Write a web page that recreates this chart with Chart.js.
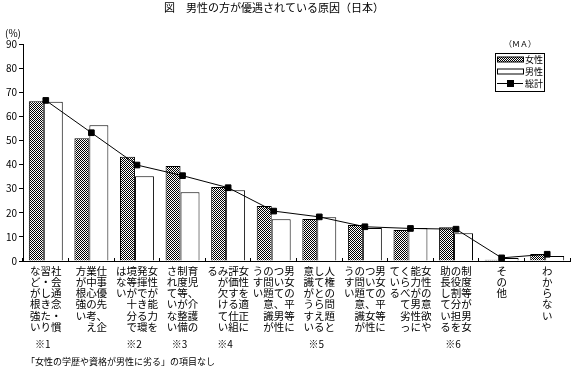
<!DOCTYPE html>
<html>
<head>
<meta charset="utf-8">
<script src="https://cdn.jsdelivr.net/npm/chart.js@4"></script>
<style>
  html, body { margin: 0; padding: 0; background: #fff; }
</style>
</head>
<body>
<canvas id="grafico" width="575" height="368"></canvas>
<script>
const titulo = '図　男性の方が優遇されている原因（日本）';
const categorias = [
    '社会通念・慣習・しきたりなどが根強い',
    '仕事優先、企業中心の考え方が根強い',
    '女性が能力を発揮できる環境等が十分ではない',
    '育児、介護の制度等が整備されていない',
    '女性を適正に評価する仕組みが欠けている',
    '男女の平等について、男性の問題意識がうすい',
    '人権の問題としてとらえる意識がうすい',
    '男女の平等について、女性の問題意識がうすい',
    '女性の意欲や能力が男性にくらべて劣っている',
    '制度等が男女の役割分担を助長している',
    'その他',
    'わからない'
];
const notas = ['※1', '', '※2', '※3', '※4', '', '※5', '', '', '※6', '', ''];
const rodape = '「女性の学歴や資格が男性に劣る」の項目なし';
const nomesSeries = ['女性', '男性', '総計'];
const valoresMulheres = [66.3, 50.9, 43.2, 39.4, 30.7, 22.8, 17.4, 14.9, 12.9, 14.0, 0.5, 2.9];
const valoresHomens = [66.0, 56.3, 35.1, 28.5, 29.3, 17.3, 18.1, 13.7, 13.7, 11.5, 1.2, 2.1];
const valoresTotal = [66.6, 53.2, 39.8, 35.4, 30.4, 20.7, 18.3, 14.2, 13.5, 13.2, 1.3, 2.8];
const ticksY = [0, 10, 20, 30, 40, 50, 60, 70, 80, 90];

const FONTE = '"Noto Sans CJK JP", sans-serif';
Chart.defaults.font.family = FONTE;
Chart.defaults.color = '#000';

// texto vertical: colunas de 6 caracteres, lidas da direita para a esquerda
function linhasVerticais(texto, porColuna = 6) {
    const chars = Array.from(texto);
    const colunas = [];
    for (let i = 0; i < chars.length; i += porColuna) colunas.push(chars.slice(i, i + porColuna));
    const linhas = [];
    for (let r = 0; r < Math.min(porColuna, chars.length); r++) {
        linhas.push(colunas.slice().reverse().map(c => c[r] || '　').join(''));
    }
    return linhas;
}

function criarPadrao() {
    const c = document.createElement('canvas');
    c.width = 2; c.height = 2;
    const p = c.getContext('2d');
    p.fillStyle = '#fff';
    p.fillRect(0, 0, 2, 2);
    p.fillStyle = '#000';
    p.fillRect(0, 0, 1, 1);
    p.fillRect(1, 1, 1, 1);
    return p.createPattern(c, 'repeat');
}

const padrao = criarPadrao();

const extras = {
    id: 'extras',
    afterDraw(chart) {
        const ctx = chart.ctx;
        const area = chart.chartArea;
        const x = chart.scales.x;
        ctx.save();
        ctx.fillStyle = '#000';
        ctx.textBaseline = 'middle';

        ctx.font = '11px ' + FONTE;
        ctx.textAlign = 'center';
        ctx.fillText(titulo, 274, 8);

        ctx.font = '10px ' + FONTE;
        ctx.textAlign = 'left';
        ctx.fillText('(%)', 5, 33);
        ctx.font = '8px ' + FONTE;
        ctx.fillText('（ＭＡ）', 504, 44);

        ctx.font = '10px ' + FONTE;
        ctx.textAlign = 'center';
        notas.forEach((n, i) => {
            if (n) ctx.fillText(n, x.getPixelForValue(i) - 3, area.bottom + 83);
        });

        ctx.font = '9px ' + FONTE;
        ctx.textAlign = 'left';
        ctx.fillText(rodape, 26, 362);

        // legenda: 女性, 男性, 総計
        ctx.strokeStyle = '#000';
        ctx.lineWidth = 1;
        ctx.strokeRect(495.5, 53.5, 49, 38);
        ctx.font = '9px ' + FONTE;
        const ds = chart.data.datasets;
        [ds[1], ds[2], ds[0]].forEach((d, i) => {
            const y = 59.5 + i * 12;
            if (d.type === 'line') {
                ctx.beginPath();
                ctx.moveTo(497, y);
                ctx.lineTo(523, y);
                ctx.stroke();
                ctx.fillRect(507, y - 3.5, 7, 7);
            } else {
                ctx.fillStyle = d.backgroundColor;
                ctx.fillRect(497.5, y - 2.5, 26, 5);
                ctx.strokeRect(497.5, y - 2.5, 26, 5);
            }
            ctx.fillStyle = '#000';
            ctx.fillText(d.label, 525, y + 0.5);
        });
        ctx.restore();
    }
};

document.addEventListener('DOMContentLoaded', () => {
    const ctx = document.getElementById('grafico').getContext('2d');

    new Chart(ctx, {
        type: 'bar',
        data: {
            labels: categorias.map(c => linhasVerticais(c)),
            datasets: [
                {
                    type: 'line',
                    label: nomesSeries[2],
                    data: valoresTotal,
                    order: 0,
                    borderColor: '#000',
                    borderWidth: 1,
                    tension: 0,
                    fill: false,
                    pointStyle: 'rect',
                    pointRadius: 4,
                    pointBorderWidth: 1,
                    pointBackgroundColor: '#000',
                    pointBorderColor: '#000'
                },
                {
                    label: nomesSeries[0],
                    data: valoresMulheres,
                    order: 1,
                    backgroundColor: padrao,
                    borderColor: '#000',
                    borderWidth: 1,
                    categoryPercentage: 0.832,
                    barPercentage: 0.789
                },
                {
                    label: nomesSeries[1],
                    data: valoresHomens,
                    order: 1,
                    backgroundColor: '#fff',
                    borderColor: '#000',
                    borderWidth: 1,
                    categoryPercentage: 0.657,
                    barPercentage: 1.267
                }
            ]
        },
        options: {
            responsive: false,
            animation: false,
            layout: { padding: { top: 44, right: 4, left: 0, bottom: 0 } },
            plugins: {
                legend: { display: false },
                title: { display: false },
                tooltip: { enabled: false }
            },
            scales: {
                x: {
                    afterFit: scale => { scale.height = 107; },
                    border: { display: true, color: '#000', width: 1 },
                    grid: {
                        display: true,
                        drawOnChartArea: false,
                        drawTicks: true,
                        tickLength: -3,
                        color: '#000'
                    },
                    ticks: {
                        autoSkip: false,
                        maxRotation: 0,
                        padding: 7,
                        font: { size: 10.5, lineHeight: 1.07 }
                    }
                },
                y: {
                    min: 0,
                    max: 90,
                    afterFit: scale => { scale.width = 23; },
                    afterBuildTicks: scale => { scale.ticks = ticksY.map(v => ({ value: v })); },
                    border: { display: true, color: '#000', width: 1 },
                    grid: {
                        display: true,
                        drawOnChartArea: false,
                        tickLength: 4,
                        color: '#000'
                    },
                    ticks: {
                        padding: 2,
                        font: { size: 10 }
                    }
                }
            }
        },
        plugins: [extras]
    });
});
</script>
</body>
</html>
